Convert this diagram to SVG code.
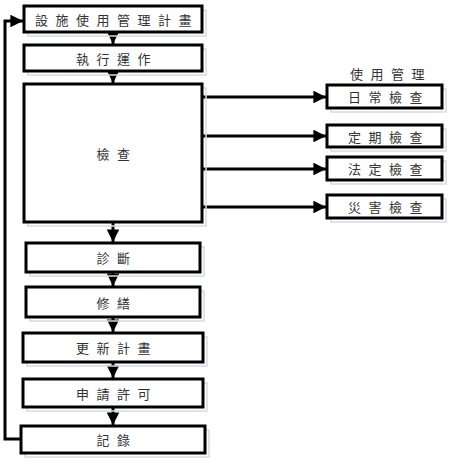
<svg xmlns="http://www.w3.org/2000/svg" width="450" height="463" viewBox="0 0 450 463">
  <style>
    .box { fill: #ffffff; stroke: #000000; stroke-width: 3; }
    .shade { fill: none; stroke: #d3dae8; stroke-width: 1.5; }
    .lbl { font-family: "Noto Sans CJK TC", "Noto Sans CJK SC", sans-serif; font-size: 13px; fill: #333333; letter-spacing: 7.5px; text-anchor: middle; dominant-baseline: central; }
    .wire { fill: none; stroke: #000000; stroke-width: 3; }
  </style>
  <defs>
    <marker id="arrow" viewBox="0 0 10 10" refX="10" refY="5" markerWidth="4.6" markerHeight="4.2" orient="auto" markerUnits="strokeWidth">
      <path d="M0,0 L10,5 L0,10 Z" fill="#000000"/>
    </marker>
  </defs>

  <rect width="450" height="463" fill="#ffffff"/>

  <!-- connectors -->
  <g id="connectors">
    <line class="wire" x1="113" y1="32" x2="113" y2="44" marker-end="url(#arrow)"/>
    <line class="wire" x1="113" y1="71" x2="113" y2="83" marker-end="url(#arrow)"/>
    <line class="wire" x1="113" y1="222" x2="113" y2="242" marker-end="url(#arrow)"/>
    <line class="wire" x1="113" y1="272" x2="113" y2="286" marker-end="url(#arrow)"/>
    <line class="wire" x1="113" y1="317" x2="113" y2="332" marker-end="url(#arrow)"/>
    <line class="wire" x1="113" y1="362" x2="113" y2="378" marker-end="url(#arrow)"/>
    <line class="wire" x1="113" y1="407" x2="113" y2="425" marker-end="url(#arrow)"/>
    <line class="wire" x1="202" y1="97" x2="326" y2="97" marker-end="url(#arrow)"/>
    <line class="wire" x1="202" y1="136" x2="326" y2="136" marker-end="url(#arrow)"/>
    <line class="wire" x1="202" y1="169" x2="326" y2="169" marker-end="url(#arrow)"/>
    <line class="wire" x1="202" y1="207" x2="326" y2="207" marker-end="url(#arrow)"/>
    <polyline class="wire" points="21,439 5,439 5,21 23,21" marker-end="url(#arrow)"/>
  </g>

  <!-- main flow -->
  <g id="plan">
    <rect class="shade" x="28" y="10" width="178" height="26"/>
    <rect class="box" x="24" y="6" width="178" height="26"/>
    <text class="lbl" x="117" y="19">設施使用管理計畫</text>
  </g>
  <g id="operate">
    <rect class="shade" x="28" y="49" width="178" height="26"/>
    <rect class="box" x="24" y="45" width="178" height="26"/>
    <text class="lbl" x="117" y="58">執行運作</text>
  </g>
  <g id="inspect">
    <rect class="shade" x="28" y="88" width="178" height="138"/>
    <rect class="box" x="24" y="84" width="178" height="138"/>
    <text class="lbl" x="117" y="153">檢查</text>
  </g>
  <g id="diagnose">
    <rect class="shade" x="30" y="247" width="174" height="29"/>
    <rect class="box" x="26" y="243" width="174" height="29"/>
    <text class="lbl" x="117" y="257.5">診斷</text>
  </g>
  <g id="repair">
    <rect class="shade" x="30" y="291" width="174" height="30"/>
    <rect class="box" x="26" y="287" width="174" height="30"/>
    <text class="lbl" x="117" y="302">修繕</text>
  </g>
  <g id="update">
    <rect class="shade" x="27" y="337" width="180" height="29"/>
    <rect class="box" x="23" y="333" width="180" height="29"/>
    <text class="lbl" x="117" y="347.5">更新計畫</text>
  </g>
  <g id="permit">
    <rect class="shade" x="27" y="383" width="180" height="28"/>
    <rect class="box" x="23" y="379" width="180" height="28"/>
    <text class="lbl" x="117" y="393">申請許可</text>
  </g>
  <g id="record">
    <rect class="shade" x="25" y="430" width="184" height="27"/>
    <rect class="box" x="21" y="426" width="184" height="27"/>
    <text class="lbl" x="117" y="439.5">記錄</text>
  </g>

  <!-- usage management checks -->
  <text class="lbl" x="391" y="73">使用管理</text>
  <g id="daily">
    <rect class="shade" x="331" y="89" width="115" height="23"/>
    <rect class="box" x="327" y="85" width="115" height="23"/>
    <text class="lbl" x="389" y="96.5">日常檢查</text>
  </g>
  <g id="periodic">
    <rect class="shade" x="331" y="129" width="115" height="22"/>
    <rect class="box" x="327" y="125" width="115" height="22"/>
    <text class="lbl" x="389" y="136">定期檢查</text>
  </g>
  <g id="statutory">
    <rect class="shade" x="331" y="161" width="115" height="23"/>
    <rect class="box" x="327" y="157" width="115" height="23"/>
    <text class="lbl" x="389" y="168.5">法定檢查</text>
  </g>
  <g id="disaster">
    <rect class="shade" x="331" y="199" width="115" height="23"/>
    <rect class="box" x="327" y="195" width="115" height="23"/>
    <text class="lbl" x="389" y="206.5">災害檢查</text>
  </g>
</svg>
